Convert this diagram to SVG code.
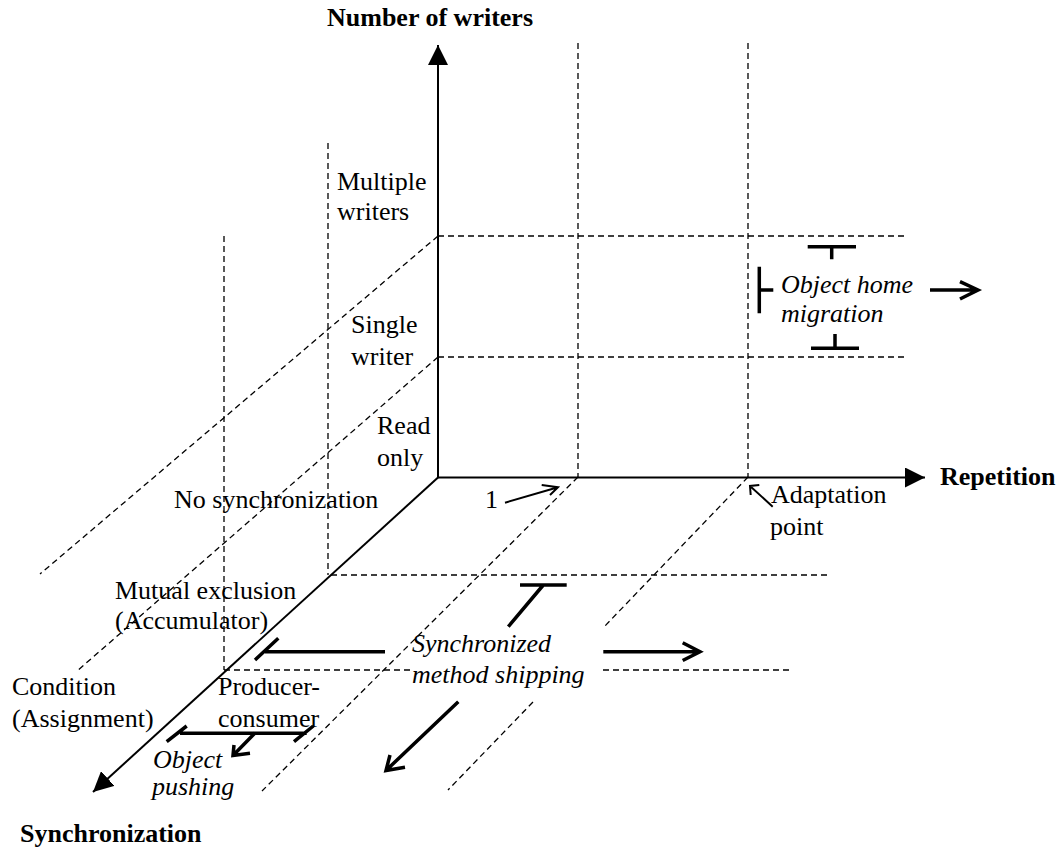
<svg xmlns="http://www.w3.org/2000/svg" width="1062" height="847" viewBox="0 0 1062 847">
<style>
text{font-family:"Liberation Serif","Times New Roman",serif;font-size:26px;fill:#000}
.b{font-weight:bold}
.i{font-style:italic}
.axis{stroke:#000;stroke-width:2;fill:none}
.dash{stroke:#000;stroke-width:1.3;stroke-dasharray:6 4;fill:none}
.thick{stroke:#000;stroke-width:3.5;fill:none;stroke-linecap:butt}
.thin{stroke:#000;stroke-width:2;fill:none}
</style>
<defs>
<marker id="tri" viewBox="0 0 20 20" refX="20" refY="10" markerWidth="20" markerHeight="20" markerUnits="userSpaceOnUse" orient="auto">
<path d="M0,0 L20,10 L0,20 z" fill="#000"/>
</marker>
</defs>
<rect width="1062" height="847" fill="#fff"/>
<g id="grid">
<line class="dash" x1="578" y1="43" x2="578" y2="477"/>
<line class="dash" x1="748" y1="43" x2="748" y2="477"/>
<line class="dash" x1="328" y1="143" x2="328" y2="575"/>
<line class="dash" x1="224" y1="236" x2="224" y2="670"/>
<line class="dash" x1="438" y1="236" x2="907" y2="236"/>
<line class="dash" x1="438" y1="357" x2="907" y2="357"/>
<line class="dash" x1="331" y1="575" x2="829" y2="575"/>
<line class="dash" x1="224" y1="670" x2="410" y2="670"/>
<line class="dash" x1="603" y1="670" x2="793" y2="670"/>
<line class="dash" x1="438" y1="236" x2="40" y2="574"/>
<line class="dash" x1="438" y1="357" x2="77" y2="671"/>
<line class="dash" x1="578" y1="477" x2="262" y2="791"/>
<line class="dash" x1="748" y1="477" x2="603" y2="628"/>
<line class="dash" x1="533" y1="702" x2="448" y2="790"/>
</g>
<g id="axes">
<line class="axis" x1="438" y1="478" x2="438" y2="45" marker-end="url(#tri)"/>
<line class="axis" x1="437" y1="477.5" x2="925" y2="477.5" marker-end="url(#tri)"/>
<line class="axis" x1="438" y1="477.5" x2="93" y2="792" marker-end="url(#tri)"/>
</g>
<g id="connectors">
<path class="thin" d="M505,502.7 L558,487.3 M541.7,485 L558,487.3 L550,495"/>
<path class="thin" d="M772.7,506.7 L750,486 M759.3,485 L750,486 L750.7,495"/>
<path class="thick" d="M807.7,246.7 L856,246.7 M831.7,246.7 L831.7,259.3"/>
<path class="thick" d="M759.3,266.7 L759.3,313.3 M759.3,290 L773.3,290"/>
<path class="thick" d="M811,348.3 L859,348.3 M835,348.3 L835,334"/>
<path class="thick" d="M930,290 L978,290 M960,281.7 L978,290 L960,299"/>
<path class="thick" d="M255,660 L278.3,638.3 M265,651.7 L385,651.7"/>
<path class="thick" d="M520,585 L566.7,585 M543.3,585 L508.3,626.7"/>
<path class="thick" d="M603.3,651.7 L700,651.7 M682.7,642.7 L700,651.7 L682.7,660.5"/>
<path class="thick" d="M458.3,701.7 L386,770.5 M390,755 L386,770.5 L405,767.3"/>
<path class="thick" d="M180,733.3 L306.7,733.3 M166.7,741.7 L186.7,726 M294,741.7 L313.3,726"/>
<path class="thick" d="M255,733 L233,755.5 M234,745 L233,755.5 L250,753.3"/>
</g>
<g id="label-number-of-writers"><text class="b" x="327" y="26">Number of writers</text></g>
<g id="label-repetition"><text class="b" x="940" y="485">Repetition</text></g>
<g id="label-synchronization"><text class="b" x="20" y="842">Synchronization</text></g>
<g id="label-multiple-writers"><text x="337" y="190">Multiple</text><text x="337" y="220">writers</text></g>
<g id="label-single-writer"><text x="351" y="333">Single</text><text x="351" y="365">writer</text></g>
<g id="label-read-only"><text x="377" y="434">Read</text><text x="377" y="466">only</text></g>
<g id="label-no-sync"><text x="174" y="508">No synchronization</text></g>
<g id="label-mutual"><text x="115" y="599">Mutual exclusion</text><text x="115" y="629">(Accumulator)</text></g>
<g id="label-condition"><text x="12" y="695">Condition</text><text x="12" y="727">(Assignment)</text></g>
<g id="label-producer"><text x="218" y="695">Producer-</text><text x="218" y="727">consumer</text></g>
<g id="label-one"><text x="485" y="508">1</text></g>
<g id="label-adaptation"><text x="771" y="503">Adaptation</text><text x="770" y="535">point</text></g>
<g id="label-object-home"><text class="i" x="781" y="293">Object home</text><text class="i" x="781" y="322">migration</text></g>
<g id="label-sms"><text class="i" x="412" y="652">Synchronized</text><text class="i" x="412" y="683">method shipping</text></g>
<g id="label-object-pushing"><text class="i" x="153" y="768">Object</text><text class="i" x="152" y="795">pushing</text></g>
</svg>
